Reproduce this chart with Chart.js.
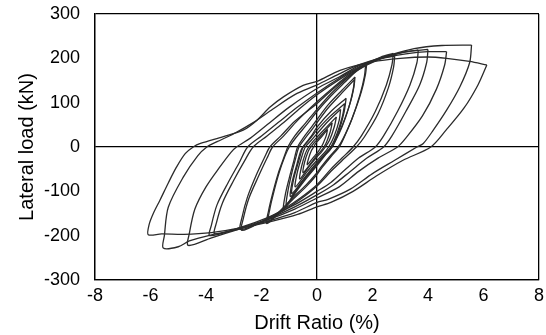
<!DOCTYPE html>
<html>
<head>
<meta charset="utf-8">
<script src="https://cdn.jsdelivr.net/npm/chart.js@4/dist/chart.umd.min.js"></script>
<style>
html,body{margin:0;padding:0;background:#fff;}
#wrap{width:546px;height:335px;}
</style>
</head>
<body>
<div id="wrap"><canvas id="c" width="546" height="335"></canvas></div>
<script>
// Axis ticks
const xTicks = [-8,-6,-4,-2,0,2,4,6,8];
const yTicks = [-300,-200,-100,0,100,200,300];

// Hysteresis cycles: [drift %, load kN]
const loopA = [[0.38,40],[0.33,25],[0.22,8],[0.15,0],[0.05,-10],[0,-14],[-0.15,-25],[-0.35,-40],[-0.3,-25],[-0.2,-8],[-0.12,0],[-0.05,8],[0,12],[0.15,22],[0.38,40]];
const loopA2 = [[0.55,55],[0.48,35],[0.35,12],[0.25,0],[0.1,-12],[0,-18],[-0.2,-35],[-0.5,-58],[-0.45,-35],[-0.32,-10],[-0.22,0],[-0.1,10],[0,16],[0.2,30],[0.55,55]];
const loopB = [[0.7,68],[0.62,45],[0.45,15],[0.3,0],[0.15,-12],[0,-22],[-0.3,-45],[-0.62,-72],[-0.56,-45],[-0.42,-15],[-0.3,0],[-0.15,12],[0,22],[0.3,42],[0.7,68]];
const loopB2 = [[0.85,85],[0.8,60],[0.62,25],[0.42,0],[0.25,-14],[0,-30],[-0.35,-55],[-0.78,-90],[-0.72,-60],[-0.55,-22],[-0.42,0],[-0.22,14],[0,30],[0.4,58],[0.85,85]];
const loopC = [[1.0,98],[0.92,70],[0.72,30],[0.5,0],[0.3,-15],[0,-35],[-0.4,-65],[-0.9,-105],[-0.84,-72],[-0.65,-30],[-0.5,0],[-0.3,15],[0,38],[0.45,68],[1.0,98]];
const loopC2 = [[1.05,110],[0.98,80],[0.8,38],[0.58,5],[0.45,-8],[0.2,-22],[0,-40],[-0.45,-72],[-0.95,-112],[-0.9,-80],[-0.72,-38],[-0.58,-8],[-0.45,5],[-0.2,25],[0,45],[0.5,80],[1.05,110]];
const loopD = [[1.37,158],[1.33,135],[1.2,100],[0.95,55],[0.7,20],[0.55,0],[0.3,-18],[0,-42],[-0.4,-72],[-0.8,-105],[-1.2,-140],[-1.15,-110],[-1.0,-70],[-0.85,-35],[-0.7,0],[-0.5,20],[-0.2,45],[0,62],[0.4,95],[0.9,128],[1.37,158]];
const loopE = [[1.35,152],[1.3,128],[1.15,90],[0.9,45],[0.65,12],[0.52,0],[0.25,-20],[0,-38],[-0.4,-68],[-0.75,-98],[-1.1,-130],[-1.05,-100],[-0.92,-62],[-0.78,-28],[-0.65,0],[-0.45,18],[-0.15,42],[0,55],[0.4,88],[0.9,122],[1.35,152]];
const loopF = [[1.79,188],[1.75,165],[1.6,125],[1.3,70],[1.0,25],[0.8,0],[0.5,-22],[0.2,-45],[0,-62],[-0.4,-90],[-0.9,-120],[-1.3,-145],[-1.81,-173],[-1.75,-145],[-1.6,-105],[-1.4,-60],[-1.2,-25],[-1.05,0],[-0.8,25],[-0.4,55],[0,85],[0.5,120],[1.0,150],[1.4,172],[1.79,188]];
const loopG = [[1.75,185],[1.71,160],[1.55,118],[1.25,62],[0.95,20],[0.76,0],[0.45,-22],[0.15,-45],[0,-58],[-0.4,-86],[-0.9,-116],[-1.3,-142],[-1.75,-168],[-1.7,-140],[-1.55,-100],[-1.35,-55],[-1.15,-20],[-1.0,0],[-0.75,22],[-0.35,52],[0,80],[0.5,115],[1.0,146],[1.4,170],[1.75,185]];
const loopH = [[2.75,211],[2.7,185],[2.5,140],[2.1,80],[1.6,25],[1.3,0],[0.9,-25],[0.5,-50],[0,-85],[-0.6,-115],[-1.2,-140],[-1.9,-165],[-2.71,-188],[-2.65,-160],[-2.45,-115],[-2.1,-65],[-1.8,-25],[-1.6,0],[-1.2,25],[-0.7,60],[0,102],[0.6,135],[1.2,165],[1.8,188],[2.3,203],[2.75,211]];
const loopI = [[2.8,205],[2.76,180],[2.58,135],[2.2,75],[1.7,22],[1.42,0],[1.0,-25],[0.55,-52],[0,-88],[-0.6,-118],[-1.2,-143],[-1.9,-166],[-2.75,-186],[-2.7,-158],[-2.5,-112],[-2.18,-62],[-1.88,-22],[-1.7,0],[-1.3,25],[-0.8,58],[0,98],[0.6,132],[1.2,162],[1.8,185],[2.3,199],[2.8,205]];
const loopJ = [[3.65,219],[3.6,190],[3.35,140],[2.9,80],[2.4,25],[2.1,0],[1.5,-25],[1.0,-52],[0.5,-80],[0,-100],[-0.8,-130],[-1.8,-160],[-2.7,-180],[-3.68,-196],[-3.62,-170],[-3.4,-125],[-3.0,-75],[-2.6,-30],[-2.3,0],[-1.8,25],[-1.2,55],[-0.6,88],[0,118],[0.8,152],[1.5,178],[2.3,200],[3.0,212],[3.65,219]];
const loopK = [[4.0,220],[3.95,190],[3.7,140],[3.2,80],[2.7,25],[2.4,0],[1.8,-25],[1.2,-55],[0.6,-85],[0,-108],[-0.8,-135],[-1.8,-163],[-2.8,-183],[-3.86,-200],[-3.8,-175],[-3.6,-130],[-3.2,-80],[-2.8,-35],[-2.5,0],[-2.0,25],[-1.4,55],[-0.7,90],[0,122],[0.8,155],[1.5,180],[2.3,200],[3.2,215],[4.0,220]];
const loopL = [[4.67,215],[4.6,185],[4.3,130],[3.8,70],[3.2,20],[2.9,0],[2.2,-25],[1.5,-55],[0.8,-90],[0,-115],[-0.8,-140],[-1.8,-165],[-2.8,-185],[-3.8,-205],[-4.64,-222],[-4.6,-195],[-4.4,-140],[-4.0,-90],[-3.5,-45],[-3.1,-12],[-2.9,0],[-2.4,20],[-1.8,50],[-1.0,90],[0,132],[0.8,158],[1.5,183],[2.3,200],[3.2,210],[4.0,215],[4.67,215]];
const loopM = [[5.57,230],[5.5,190],[5.15,136],[4.67,83],[4.19,38],[3.83,8],[3.6,0],[2.8,-30],[2.0,-60],[1.2,-95],[0.4,-118],[0,-125],[-0.8,-148],[-1.8,-168],[-2.8,-185],[-3.8,-198],[-4.6,-212],[-5.0,-225],[-5.54,-228],[-5.5,-200],[-5.36,-136],[-4.82,-68],[-4.3,-20],[-3.97,0],[-3.6,12],[-3.0,30],[-2.3,55],[-1.6,85],[-0.8,118],[0,140],[0.8,165],[1.5,185],[2.5,205],[3.5,222],[4.5,229],[5.57,230]];
const loopN = [[6.12,185],[5.8,140],[5.3,88],[4.65,38],[4.1,0],[3.1,-30],[2.15,-65],[1.3,-100],[0.5,-125],[0,-135],[-0.7,-152],[-1.6,-167],[-2.7,-182],[-3.8,-193],[-4.8,-197],[-5.6,-196],[-6.08,-198],[-6.05,-175],[-5.9,-150],[-5.66,-120],[-5.35,-80],[-5.06,-45],[-4.75,-15],[-4.46,0],[-4.2,8],[-3.4,23],[-2.66,38],[-2.17,60],[-1.69,90],[-1.21,113],[-0.5,139],[0,148],[0.83,173],[2.0,192],[3.0,200],[4.0,203],[4.67,200],[5.5,193],[6.12,185]];

const loops = [loopA, loopA2, loopB, loopB2, loopC, loopC2, loopD, loopE, loopF, loopG, loopH, loopI, loopJ, loopK, loopL, loopM, loopN];

const FONT = "'Liberation Sans', Arial, sans-serif";

const datasets = loops.map(l => ({
  data: l.map(p => ({x: p[0], y: p[1]})),
  showLine: true,
  borderColor: '#2b2b2b',
  borderWidth: 1.3,
  pointRadius: 0,
  tension: 0.3,
  fill: false
}));

function edgeColor(min, max) {
  return ctx => {
    const v = ctx.tick.value;
    return (v === 0 || v === min || v === max) ? '#000000' : 'rgba(0,0,0,0)';
  };
}

new Chart(document.getElementById('c'), {
  type: 'scatter',
  data: { datasets },
  options: {
    responsive: false,
    animation: false,
    devicePixelRatio: 1,
    layout: { padding: { left: 0, right: 7, top: 14, bottom: 0 } },
    plugins: { legend: { display: false }, tooltip: { enabled: false } },
    scales: {
      x: {
        type: 'linear', min: -8, max: 8,
        afterBuildTicks: s => { s.ticks = xTicks.map(v => ({value: v})); },
        afterFit: s => { s.height = 55; s.paddingLeft = 0; s.paddingRight = 0; },
        grid: { color: edgeColor(-8, 8), lineWidth: 1.3, drawTicks: false },
        border: { display: true, color: '#000', width: 1.3 },
        ticks: { color: '#000', font: { family: FONT, size: 18 }, padding: 5, maxRotation: 0 },
        title: { display: true, text: 'Drift Ratio (%)', color: '#000', font: { family: FONT, size: 20 }, padding: { top: 0, bottom: 0 } }
      },
      y: {
        type: 'linear', min: -300, max: 300,
        afterBuildTicks: s => { s.ticks = yTicks.map(v => ({value: v})); },
        afterFit: s => { s.width = 95; s.paddingTop = 0; s.paddingBottom = 0; },
        grid: { color: edgeColor(-300, 300), lineWidth: 1.3, drawTicks: false },
        border: { display: true, color: '#000', width: 1.3 },
        ticks: { color: '#000', font: { family: FONT, size: 18 }, padding: 15 },
        title: { display: true, text: 'Lateral load (kN)', color: '#000', font: { family: FONT, size: 20 }, padding: { top: 15, bottom: 0 } }
      }
    }
  }
});
</script>
</body>
</html>
